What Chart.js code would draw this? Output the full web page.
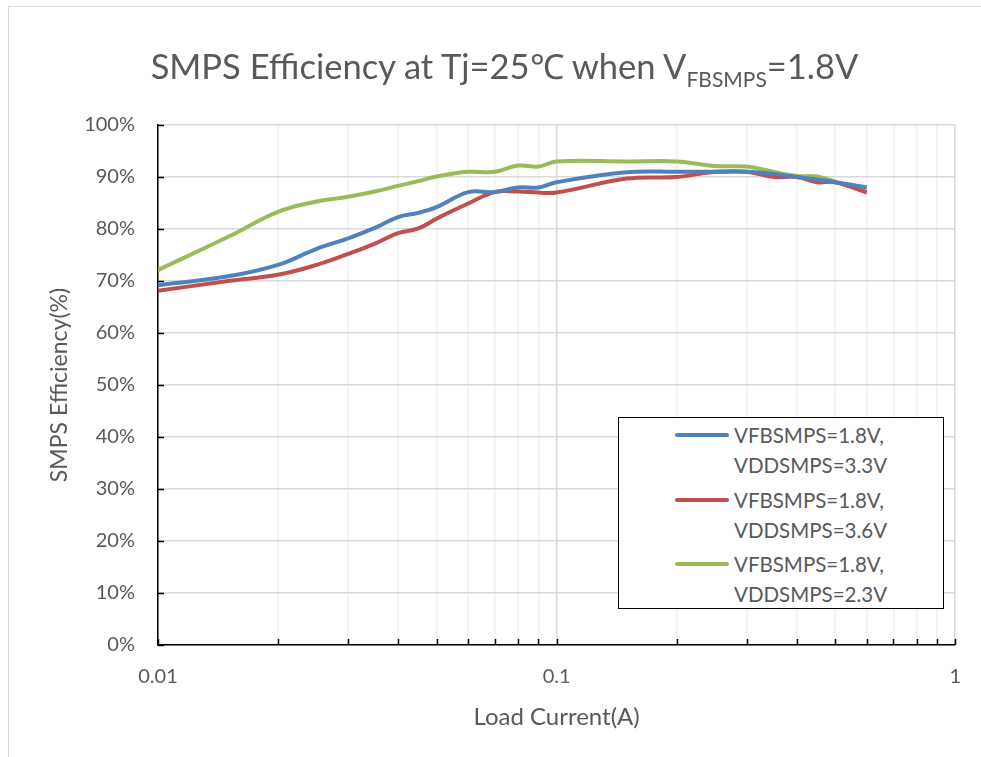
<!DOCTYPE html>
<html>
<head>
<meta charset="utf-8">
<script src="https://cdn.jsdelivr.net/npm/chart.js@4.4.0/dist/chart.umd.min.js"></script>
<style>
  html, body { margin: 0; padding: 0; background: #fff; }
  #wrap { position: relative; width: 981px; height: 757px; overflow: hidden; font-family: Lato, "Open Sans", sans-serif; color: #595959; }
  #frame { position: absolute; left: 8px; top: 6px; width: 1200px; height: 1200px; border-top: 1px solid #d9d9d9; border-left: 1px solid #d9d9d9; }
  #title { position: absolute; left: 0; width: 1009px; top: 46px; text-align: center; font-size: 34.5px; line-height: 40px; white-space: nowrap; }
  #title sub { font-size: 21px; vertical-align: -8px; line-height: 0; }
  #legend { position: absolute; left: 618px; top: 417px; width: 324px; height: 190px; border: 1.5px solid #000; background: #fff; }
  .entry { position: absolute; left: 0; }
  .swatch { position: absolute; left: 56px; width: 54px; height: 4px; border-radius: 2px; }
  .ltext { position: absolute; left: 115px; font-size: 20.5px; line-height: 30px; white-space: nowrap; }
  canvas { position: absolute; left: 0; top: 0; }
</style>
</head>
<body>
<div id="wrap">
  <div id="frame"></div>
  <canvas id="c" width="981" height="757"></canvas>
  <div id="title">SMPS Efficiency at Tj=25℃ when V<sub>FBSMPS</sub>=1.8V</div>
  <div id="legend"></div>
</div>
<script>
// ---- data ----
const loadCurrent = [0.01, 0.015, 0.02, 0.025, 0.03, 0.035, 0.04, 0.045, 0.05, 0.06, 0.07, 0.08, 0.09, 0.1, 0.15, 0.2, 0.25, 0.3, 0.35, 0.4, 0.45, 0.5, 0.6];
const eff33 = [69.2, 70.9, 73.1, 76.2, 78.2, 80.2, 82.3, 83.1, 84.2, 87.1, 87.1, 88.0, 88.0, 89.0, 90.9, 91.0, 91.0, 91.0, 90.6, 90.0, 89.5, 89.0, 88.0];
const eff36 = [68.1, 70.0, 71.2, 73.1, 75.2, 77.2, 79.2, 80.1, 82.0, 84.9, 87.1, 87.2, 87.0, 87.0, 89.7, 90.0, 91.0, 91.0, 90.0, 90.0, 89.0, 89.0, 87.0];
const eff23 = [72.1, 78.5, 83.3, 85.3, 86.2, 87.2, 88.3, 89.2, 90.1, 91.0, 91.0, 92.2, 92.0, 93.0, 93.0, 93.0, 92.1, 92.0, 91.0, 90.2, 90.1, 89.1, 87.2];
const seriesLabels = [
  ["VFBSMPS=1.8V,", "VDDSMPS=3.3V"],
  ["VFBSMPS=1.8V,", "VDDSMPS=3.6V"],
  ["VFBSMPS=1.8V,", "VDDSMPS=2.3V"]
];
const seriesColors = ["#4f81bd", "#c0504d", "#9bbb59"];
const xTickLabels = [0.01, 0.1, 1];
const yTicks = [0, 10, 20, 30, 40, 50, 60, 70, 80, 90, 100];
const xTitle = "Load Current(A)";
const yTitle = "SMPS Efficiency(%)";

const seriesValues = [eff33, eff36, eff23];
const datasets = seriesValues.map((vals, i) => ({
  label: seriesLabels[i].join(" "),
  data: loadCurrent.map((x, j) => ({ x: x, y: vals[j] })),
  borderColor: seriesColors[i],
  backgroundColor: seriesColors[i],
  borderWidth: 4,
  pointRadius: 0,
  tension: 0.4,
  fill: false
}));

// minor tick positions derived from decades
const xAllTicks = [];
for (let d = 0; d < xTickLabels.length - 1; d++) {
  for (let m = 1; m < 10; m++) xAllTicks.push(+(xTickLabels[d] * m).toPrecision(3));
}
xAllTicks.push(xTickLabels[xTickLabels.length - 1]);
const isMajor = v => xTickLabels.some(t => Math.abs(t - v) < 1e-9);

const insideTicks = {
  id: 'insideTicks',
  afterDatasetsDraw(chart) {
    const { ctx, scales: { x, y }, chartArea } = chart;
    ctx.save();
    ctx.strokeStyle = '#000';
    ctx.lineWidth = 1.5;
    yTicks.forEach(v => {
      const py = Math.round(y.getPixelForValue(v)) + 0.5;
      ctx.beginPath(); ctx.moveTo(chartArea.left, py); ctx.lineTo(chartArea.left + 6, py); ctx.stroke();
    });
    xAllTicks.forEach(v => {
      const px = Math.round(x.getPixelForValue(v)) + 0.5;
      ctx.beginPath(); ctx.moveTo(px, chartArea.bottom); ctx.lineTo(px, chartArea.bottom - 6); ctx.stroke();
    });
    ctx.restore();
  }
};

const fontFamily = 'Lato, "Open Sans", sans-serif';
new Chart(document.getElementById('c'), {
  type: 'line',
  data: { datasets },
  options: {
    responsive: false,
    animation: false,
    devicePixelRatio: 1,
    layout: { padding: { top: 125, right: 25, left: 0, bottom: 0 } },
    plugins: { legend: { display: false }, title: { display: false }, tooltip: { enabled: false } },
    scales: {
      x: {
        type: 'logarithmic',
        min: 0.01, max: 1,
        afterBuildTicks: s => { s.ticks = xAllTicks.map(v => ({ value: v, major: isMajor(v) })); },
        afterFit: s => { s.height = 112; },
        ticks: {
          autoSkip: false, maxRotation: 0,
          color: '#595959', font: { family: fontFamily, size: 20 }, padding: 20,
          callback: v => isMajor(v) ? String(v) : ''
        },
        grid: {
          drawTicks: false,
          color: c => (c.tick && isMajor(c.tick.value)) ? '#d9d9d9' : '#f0f0f0',
          lineWidth: 1.5
        },
        border: { color: '#000', width: 1.5 },
        title: { display: true, text: xTitle, color: '#595959', font: { family: fontFamily, size: 24 }, padding: { top: 0, bottom: 25 } }
      },
      y: {
        min: 0, max: 100,
        afterBuildTicks: s => { s.ticks = yTicks.map(v => ({ value: v })); },
        afterFit: s => { s.width = 158; },
        ticks: { color: '#595959', font: { family: fontFamily, size: 20 }, padding: 23, callback: v => v + '%' },
        grid: { drawTicks: false, color: '#d9d9d9', lineWidth: 1.5 },
        border: { color: '#000', width: 1.5 },
        title: { display: true, text: yTitle, color: '#595959', font: { family: fontFamily, size: 23 }, padding: { top: 46, bottom: 0 } }
      }
    }
  },
  plugins: [insideTicks]
});

// HTML legend from the series arrays
const legend = document.getElementById('legend');
const entryTops = [2, 66.5, 131];
seriesLabels.forEach((lines, i) => {
  const e = document.createElement('div');
  e.className = 'entry';
  e.style.top = entryTops[i] + 'px';
  const sw = document.createElement('div');
  sw.className = 'swatch';
  sw.style.background = seriesColors[i];
  sw.style.top = '13px';
  const t = document.createElement('div');
  t.className = 'ltext';
  t.innerHTML = lines.join('<br>');
  e.appendChild(sw); e.appendChild(t);
  legend.appendChild(e);
});
</script>
</body>
</html>
